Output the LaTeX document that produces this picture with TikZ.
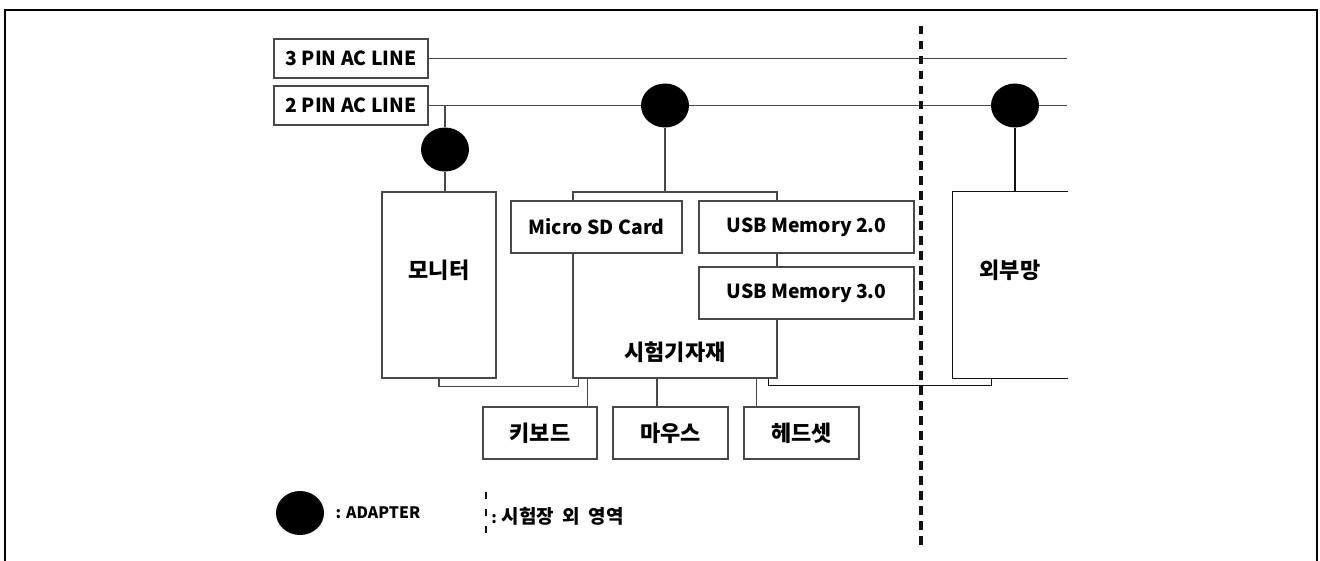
\documentclass[tikz,border=0pt]{standalone}
\usepackage{fontspec}
\setmainfont{Noto Sans CJK KR}
\usepackage{tikz}
\usetikzlibrary{positioning,shapes.geometric}
\definecolor{wirec}{HTML}{484848}
\definecolor{ink}{HTML}{111111}
\tikzset{
  unit/.style={draw=wirec,fill=white,line width=0.8pt,inner sep=0pt,minimum width=#1,minimum height=10.4mm,
               align=center,font=\bfseries\fontsize{11}{13}\selectfont},
  unit/.default=22.8mm,
  kr/.style={font=\bfseries\fontsize{12.5}{14}\selectfont},
  txt/.style={inner sep=0pt,kr},
  adp/.style={ellipse,fill=black,minimum width=9.6mm,minimum height=8.8mm,inner sep=0pt},
  wire/.style={draw=wirec,line width=0.8pt},
  cut/.style={draw=ink,line width=1.9pt,dash pattern=on 1.7mm off 1.3mm},
  lgd/.style={inner sep=0pt,anchor=west,font=\bfseries\fontsize{9}{11}\selectfont},
}

\begin{document}
\begin{tikzpicture}[x=0.2mm,y=-0.2mm]
  \useasboundingbox (0,0) rectangle (1320,561);
  \draw[line width=1.4pt] (5,561) -- (5,10) -- (1317,10) -- (1317,561);
  % power lines
  \node[unit=30.8mm,minimum height=7.8mm] (pin3) at (351,58.5) {3 PIN AC LINE};
  \node[unit=30.8mm,minimum height=7.8mm] (pin2) at (351,105.5) {2 PIN AC LINE};
  \coordinate (end3) at (1067,58.5);
  \coordinate (end2) at (1067,105.5);
  \node[adp] (ad1) at (445,149.5) {};
  \node[adp] (ad2) at (665,105.5) {};
  \node[adp] (ad3) at (1015,105.5) {};
  % devices
  \node[unit=22.8mm,minimum height=37.2mm] (monitor) at (439,285) {};
  \node[unit=40.8mm,minimum height=37.2mm] (equip) at (675,285) {};
  \node[unit=34.2mm] (sd) at (596.5,227) {Micro SD Card};
  \node[unit=43mm] (usb2) at (806.5,227) {USB Memory 2.0};
  \node[unit=43mm] (usb3) at (806.5,293) {USB Memory 3.0};
  \node[unit=22.8mm,minimum height=37.2mm,draw=none,fill=none] (ext) at (1010,285) {};
  \node[txt] (monitorlbl) at (439,270) {모니터};
  \node[txt] (equiplbl) at (675,352) {시험기자재};
  \node[txt] (extlbl) at (1010,270) {외부망};
  \node[unit=22.8mm,kr] (kbd) at (540,433) {키보드};
  \node[unit=23mm,kr] (mouse) at (670.5,433) {마우스};
  \node[unit=23mm,kr] (headset) at (801.5,433) {헤드셋};
  % connectors
  \draw[wire] (pin3.east) -- (end3);
  \draw[wire] (pin2.east) -- (ad2.west) (ad2.east) -- (ad3.west) (ad3.east) -- (end2);
  \draw[wire] (ad1 |- pin2.east) -- (ad1.north);
  \draw[wire] (ad1.south) -- (monitor.north -| ad1);
  \draw[wire] (ad2.south) -- (equip.north -| ad2);
  \draw[wire,draw=ink] (ad3.south) -- (ext.north -| ad3);
  \draw[wire,draw=ink] (ext.north east) -- (ext.north west) -- (ext.south west) -- (ext.south east);
  \draw[wire] (monitor.south) -- ++(0,8) -| ([xshift=1.2mm]equip.south west);
  \draw[wire,draw=ink] ([xshift=-1.8mm]equip.south east) -- ++(0,7) -| ([xshift=7.8mm]ext.south west);
  \draw[wire] ([xshift=-2mm]kbd.north east) -- ([xshift=-2mm]kbd.north east |- equip.south);
  \draw[wire] ([xshift=-2.7mm]mouse.north) -- ([xshift=-2.7mm]mouse.north |- equip.south);
  \draw[wire] ([xshift=2.6mm]headset.north west) -- ([xshift=2.6mm]headset.north west |- equip.south);
  % test-site boundary
  \coordinate (cuttop) at (921,26);
  \coordinate (cutbot) at (921,548);
  \draw[cut] (cuttop) -- (cutbot);
  % legend
  \node[adp] (legad) at (300,513) {};
  \node[lgd,right=2.2mm of legad] (legadtxt) {: ADAPTER};
  \coordinate (legtop) at (486,492);
  \coordinate (legbot) at (486,533);
  \draw[cut,line width=1.3pt,dash pattern=on 1.4mm off 2mm] (legtop) -- (legbot);
  \node[lgd] (legcuttxt) at (491,516) {: {\fontsize{10.8}{12}\selectfont 시험장\hspace{0.45em}외\hspace{0.45em}영역}};
\end{tikzpicture}
\end{document}
